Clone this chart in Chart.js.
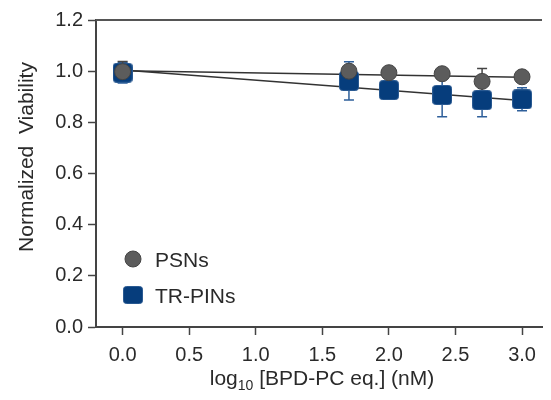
<!DOCTYPE html>
<html>
<head>
<meta charset="utf-8">
<script src="https://cdn.jsdelivr.net/npm/chart.js@4.4.1/dist/chart.umd.min.js"></script>
<style>
  html, body { margin: 0; padding: 0; background: #fff; }
  #wrap { width: 551px; height: 400px; }
</style>
</head>
<body>
<div id="wrap"><canvas id="myChart" width="551" height="400"></canvas></div>
<script>
// log10 concentration
const doses = [0, 1.7, 2.0, 2.4, 2.7, 3.0]
const psnViability = [0.998, 1.0, 0.994, 0.99, 0.96, 0.978]
const psnError = [0.04, 0.02, 0.01, 0.01, 0.05, 0.01]
const trpinViability = [0.994, 0.962, 0.926, 0.907, 0.887, 0.89]
const trpinError = [0.04, 0.075, 0.02, 0.085, 0.065, 0.045]
// fitted lines, value at first and last dose
const psnFit = [1.002, 0.976]
const trpinFit = [1.005, 0.885]
const xTicks = [0, 0.5, 1, 1.5, 2, 2.5, 3]
const yTicks = [0, 0.2, 0.4, 0.6, 0.8, 1.0, 1.2]

const FONT = '"Liberation Sans", Arial, sans-serif'
const ink = '#2a2a2a'
const blue = '#063d7c'
const grey = '#5c5c5c'

// rounded blue square marker
function squareMarker(size) {
  const c = document.createElement('canvas')
  c.width = size
  c.height = size
  const g = c.getContext('2d')
  g.fillStyle = blue
  g.strokeStyle = '#2a5a92'
  g.lineWidth = 1
  g.beginPath()
  g.roundRect(0.5, 0.5, size - 1, size - 1, 3)
  g.fill()
  g.stroke()
  return c
}
const square = squareMarker(20)

const toPoints = (ys) => doses.map((x, i) => ({ x, y: ys[i] }))
const fitPoints = (f) => [{ x: doses[0], y: f[0] }, { x: doses[doses.length - 1], y: f[1] }]

const errorBars = {
  id: 'errorBars',
  beforeDatasetsDraw: chart => {
    const { ctx, scales: { x, y } } = chart
    const sets = [
      { vals: trpinViability, errs: trpinError, color: '#2e5f9a' },
      { vals: psnViability, errs: psnError, color: '#444' },
    ]
    ctx.save()
    ctx.lineWidth = 1.5
    for (const s of sets) {
      ctx.strokeStyle = s.color
      doses.forEach((d, i) => {
        const px = x.getPixelForValue(d)
        const top = y.getPixelForValue(s.vals[i] + s.errs[i])
        const bot = y.getPixelForValue(s.vals[i] - s.errs[i])
        ctx.beginPath()
        ctx.moveTo(px, top)
        ctx.lineTo(px, bot)
        ctx.moveTo(px - 5, top)
        ctx.lineTo(px + 5, top)
        ctx.moveTo(px - 5, bot)
        ctx.lineTo(px + 5, bot)
        ctx.stroke()
      })
    }
    ctx.restore()
  },
}

// top frame line, axis titles (with subscript) and legend
const frame = {
  id: 'frame',
  afterDraw: chart => {
    const { ctx, chartArea } = chart
    ctx.save()
    ctx.strokeStyle = '#555'
    ctx.lineWidth = 2
    ctx.beginPath()
    ctx.moveTo(chartArea.left, chartArea.top)
    ctx.lineTo(chartArea.right, chartArea.top)
    ctx.stroke()

    ctx.fillStyle = ink
    ctx.textBaseline = 'alphabetic'

    // x title
    ctx.font = '21px ' + FONT
    const a = 'log'
    const b = '10'
    const c = ' [BPD-PC eq.] (nM)'
    const wa = ctx.measureText(a).width
    ctx.font = '14px ' + FONT
    const wb = ctx.measureText(b).width
    ctx.font = '21px ' + FONT
    const wc = ctx.measureText(c).width
    let tx = (chartArea.left + chartArea.right) / 2 - (wa + wb + wc) / 2 + 3
    ctx.textAlign = 'left'
    ctx.fillText(a, tx, 385)
    ctx.font = '14px ' + FONT
    ctx.fillText(b, tx + wa, 390)
    ctx.font = '21px ' + FONT
    ctx.fillText(c, tx + wa + wb, 385)

    // y title
    ctx.save()
    ctx.translate(33, 157)
    ctx.rotate(-Math.PI / 2)
    ctx.textAlign = 'center'
    ctx.fillText('Normalized  Viability', 0, 0)
    ctx.restore()

    // legend, bottom left inside the plot
    const lx = chartArea.left + 37
    ctx.beginPath()
    ctx.arc(lx, 259, 8, 0, Math.PI * 2)
    ctx.fillStyle = grey
    ctx.fill()
    ctx.strokeStyle = '#444'
    ctx.lineWidth = 1
    ctx.stroke()
    ctx.drawImage(square, lx - 10, 295 - 9, 20, 18)
    ctx.fillStyle = ink
    ctx.textAlign = 'left'
    ctx.fillText('PSNs', lx + 22, 267)
    ctx.fillText('TR-PINs', lx + 22, 303)
    ctx.restore()
  },
}

const options = {
  animation: false,
  responsive: false,
  layout: { padding: { top: 20, right: 0, left: 0, bottom: 0 } },
  plugins: {
    legend: { display: false },
    tooltip: { enabled: false },
  },
  scales: {
    x: {
      type: 'linear',
      min: -0.2,
      max: 3.15,
      afterBuildTicks: scale => { scale.ticks = xTicks.map(value => ({ value })) },
      afterFit: scale => { scale.height = 73 },
      border: { color: '#444', width: 2 },
      grid: { drawOnChartArea: false, drawTicks: true, tickLength: 8, tickColor: '#444', tickWidth: 1.5 },
      ticks: {
        color: ink,
        padding: 8,
        font: { family: FONT, size: 20 },
        callback: v => v.toFixed(1),
      },
    },
    y: {
      min: 0,
      max: 1.2,
      afterBuildTicks: scale => { scale.ticks = yTicks.map(value => ({ value })) },
      afterFit: scale => { scale.width = 96 },
      border: { color: '#444', width: 2 },
      grid: { drawOnChartArea: false, drawTicks: true, tickLength: 8, tickColor: '#444', tickWidth: 1.5 },
      ticks: {
        color: ink,
        padding: 5,
        font: { family: FONT, size: 20 },
        callback: v => v.toFixed(1),
      },
    },
  },
}

const data = {
  datasets: [
    {
      label: 'PSNs',
      data: toPoints(psnViability),
      pointStyle: 'circle',
      pointRadius: 8,
      backgroundColor: grey,
      borderColor: '#444',
      borderWidth: 1,
      order: 0,
    },
    {
      label: 'TR-PINs',
      data: toPoints(trpinViability),
      pointStyle: square,
      order: 1,
    },
    {
      label: 'PSNs fit',
      data: fitPoints(psnFit),
      showLine: true,
      pointRadius: 0,
      borderColor: '#333',
      borderWidth: 1.5,
      order: 2,
    },
    {
      label: 'TR-PINs fit',
      data: fitPoints(trpinFit),
      showLine: true,
      pointRadius: 0,
      borderColor: '#333',
      borderWidth: 1.5,
      order: 3,
    },
  ],
}

const myChart = new Chart(document.getElementById('myChart'), {
  type: 'scatter',
  data,
  plugins: [errorBars, frame],
  options,
})
</script>
</body>
</html>
